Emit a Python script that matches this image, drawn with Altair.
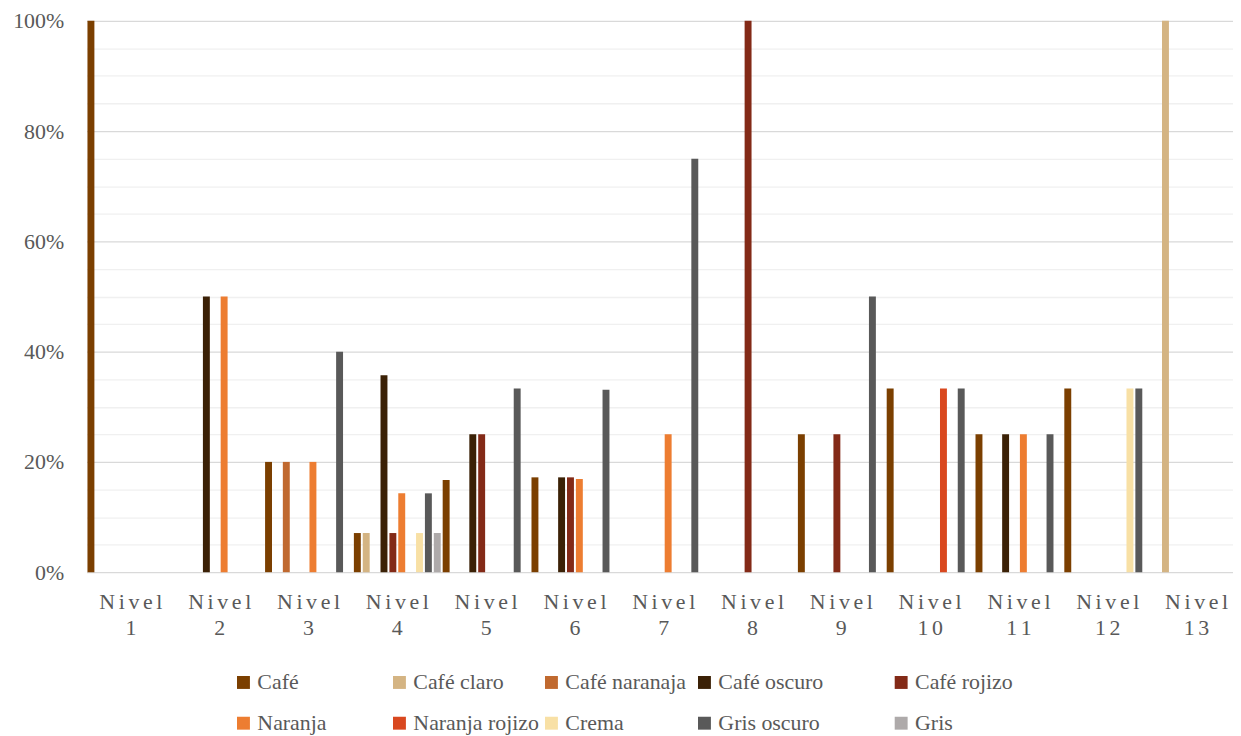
import altair as alt
import pandas as pd

levels = [f"Nivel {i}" for i in range(1, 14)]
series = ["Café", "Café claro", "Café naranaja", "Café oscuro", "Café rojizo",
          "Naranja", "Naranja rojizo", "Crema", "Gris oscuro", "Gris"]
colors = ["#7B3F00", "#D4B483", "#C0692F", "#3B2106", "#832A17",
          "#ED7D31", "#D9481F", "#F8E0A5", "#595959", "#AEAAAA"]

nivel_1 = [100, 0, 0, 0, 0, 0, 0, 0, 0, 0]
nivel_2 = [0, 0, 0, 50, 0, 50, 0, 0, 0, 0]
nivel_3 = [20, 0, 20, 0, 0, 20, 0, 0, 40, 0]
nivel_4 = [7.1, 7.1, 0, 35.7, 7.1, 14.3, 0, 7.1, 14.3, 7.1]
nivel_5 = [16.7, 0, 0, 25, 25, 0, 0, 0, 33.3, 0]
nivel_6 = [17.2, 0, 0, 17.2, 17.2, 16.9, 0, 0, 33.1, 0]
nivel_7 = [0, 0, 0, 0, 0, 25, 0, 0, 75, 0]
nivel_8 = [0, 0, 0, 0, 100, 0, 0, 0, 0, 0]
nivel_9 = [25, 0, 0, 0, 25, 0, 0, 0, 50, 0]
nivel_10 = [33.3, 0, 0, 0, 0, 0, 33.3, 0, 33.3, 0]
nivel_11 = [25, 0, 0, 25, 0, 25, 0, 0, 25, 0]
nivel_12 = [33.3, 0, 0, 0, 0, 0, 0, 33.3, 33.3, 0]
nivel_13 = [0, 100, 0, 0, 0, 0, 0, 0, 0, 0]

values = [nivel_1, nivel_2, nivel_3, nivel_4, nivel_5, nivel_6, nivel_7,
          nivel_8, nivel_9, nivel_10, nivel_11, nivel_12, nivel_13]

rows = []
for lvl, vals in zip(levels, values):
    for s, v in zip(series, vals):
        if v > 0:
            rows.append({"nivel": lvl, "serie": s, "valor": v})
df = pd.DataFrame(rows)

FONT = "Liberation Serif"
GRAY = "#595959"
SP = "\u2006"
NB = "\u00a0"
WJ = "\u2060"

pads = {"Naranja": 11, "Café naranaja": 1, "Café oscuro": 12}
legend_expr = ""
for name, n in pads.items():
    legend_expr += f"datum.label == '{name}' ? '{name}{NB * n}{WJ}' : "
legend_expr += "datum.label"

x_label_expr = (f"[join(split('Nivel', ''), '{SP}'), "
                f"join(split(replace(datum.label, 'Nivel ', ''), ''), '{SP}')]")

chart = alt.Chart(df).mark_bar().encode(
    x=alt.X("nivel:N", sort=levels,
            scale=alt.Scale(domain=levels, paddingInner=0, paddingOuter=0, range=[0, 1162]),
            axis=alt.Axis(title=None, labelAngle=0, domain=False, ticks=False,
                          labelFont=FONT, labelFontSize=22, labelColor=GRAY,
                          labelPadding=20, labelLineHeight=26, labelExpr=x_label_expr)),
    xOffset=alt.XOffset("serie:N", sort=series,
                        scale=alt.Scale(domain=series, paddingInner=0.22, paddingOuter=0.11)),
    y=alt.Y("valor:Q",
            scale=alt.Scale(domain=[0, 100], nice=False),
            axis=alt.Axis(title=None, domain=False, ticks=False,
                          values=list(range(0, 101, 5)),
                          labelExpr="datum.value % 20 == 0 ? datum.value + '%' : ''",
                          labelFont=FONT, labelFontSize=22, labelColor=GRAY,
                          labelPadding=23,
                          gridColor=alt.condition("datum.value % 20 == 0",
                                                  alt.value("#D9D9D9"), alt.value("#F0F0F0")),
                          gridWidth=1.3)),
    color=alt.Color("serie:N", sort=series,
                    scale=alt.Scale(domain=series, range=colors),
                    legend=alt.Legend(title=None, orient="none", legendX=147, legendY=655,
                                      direction="horizontal", columns=5, gridAlign="each",
                                      columnPadding=1, rowPadding=19,
                                      symbolType="square", symbolSize=169, symbolStrokeWidth=0,
                                      labelFont=FONT, labelFontSize=22, labelColor=GRAY,
                                      labelOffset=3, padding=0, labelLimit=400,
                                      labelExpr=legend_expr)),
).properties(
    width=1154, height=555,
    autosize=alt.AutoSizeParams(type="none"),
    padding={"left": 79, "top": 10.5, "right": 0, "bottom": 162},
    background="white",
).configure_view(stroke=None)

chart.save("out.html", embed_options={"renderer": "svg", "actions": False})
